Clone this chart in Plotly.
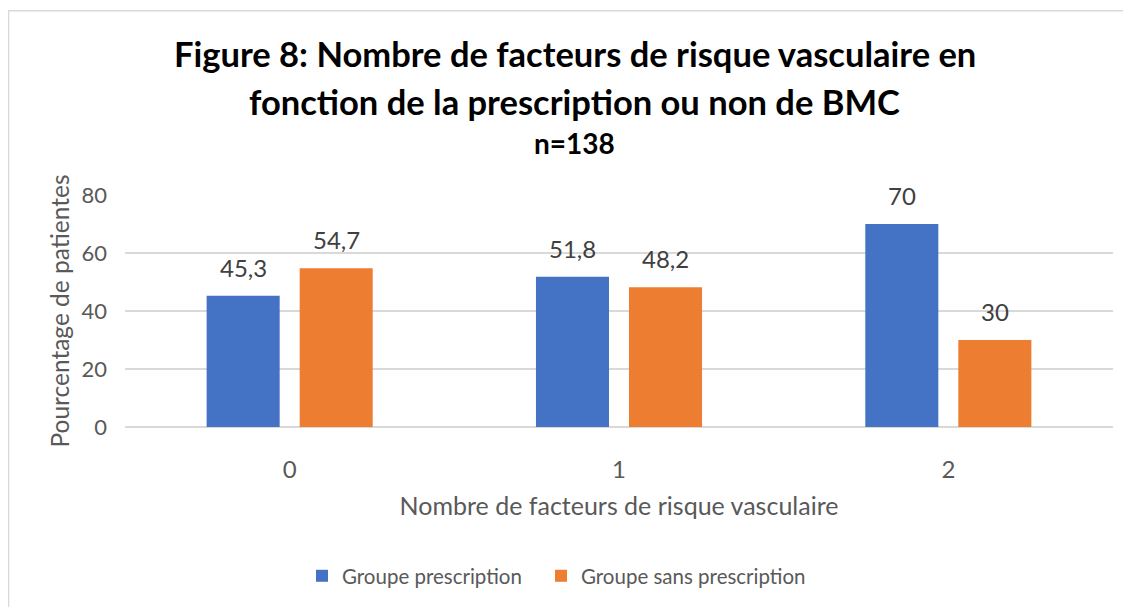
import plotly.graph_objects as go

categories = ["0", "1", "2"]
groupe_prescription = [45.3, 51.8, 70]
groupe_sans_prescription = [54.7, 48.2, 30]
series_names = ["Groupe prescription", "Groupe sans prescription"]
colors = ["#4472C4", "#ED7D31"]
yticks = [0, 20, 40, 60, 80]

FONT = "Lato"
fig = go.Figure()
for name, vals, col, lg in zip(series_names, [groupe_prescription, groupe_sans_prescription], colors, ["legend", "legend2"]):
    fig.add_trace(go.Bar(x=categories, y=vals, name=name, legend=lg, marker=dict(color=col, line=dict(width=0))))

def fmt(v):
    return ("%g" % v).replace(".", ",")

for vals, shift in [(groupe_prescription, -46.5), (groupe_sans_prescription, 46.5)]:
    for c, v in zip(categories, vals):
        fig.add_annotation(x=c, y=v, text=fmt(v), showarrow=False, xshift=shift, yshift=12,
                           yanchor="bottom", font=dict(family=FONT, size=24, color="#404040"))

# titles
fig.add_annotation(xref="paper", yref="paper", x=0.455, y=1.609, text="<b>Figure 8: Nombre de facteurs de risque vasculaire en</b>",
                   showarrow=False, font=dict(family=FONT, size=34.5, color="#000000"), yanchor="middle")
fig.add_annotation(xref="paper", yref="paper", x=0.455, y=1.405, text="<b>fonction de la prescription ou non de BMC</b>",
                   showarrow=False, font=dict(family=FONT, size=34.5, color="#000000"), yanchor="middle")
fig.add_annotation(xref="paper", yref="paper", x=0.455, y=1.223, text="<b>n=138</b>",
                   showarrow=False, font=dict(family=FONT, size=28, color="#000000"), yanchor="middle")

fig.add_shape(type="rect", xref="paper", yref="paper", x0=(8.5 - 125) / 988, x1=1.05, y0=-0.9, y1=(428 - 10) / 233,
              line=dict(color="#D9D9D9", width=1.5), fillcolor="rgba(0,0,0,0)")

legend_style = dict(orientation="h", xanchor="left", y=-0.635, yanchor="middle",
                    font=dict(family=FONT, size=20.5, color="#595959"), bgcolor="rgba(0,0,0,0)")

fig.update_layout(
    width=1123, height=599,
    margin=dict(l=117, r=18, t=187, b=179),
    paper_bgcolor="white", plot_bgcolor="white",
    barmode="group", bargap=0.435, bargroupgap=0.215,
    font=dict(family=FONT, color="#595959"),
    showlegend=True,
    legend=dict(x=(302 - 125) / 988, **legend_style),
    legend2=dict(x=(541 - 125) / 988, **legend_style),
)
fig.update_xaxes(showgrid=False, showline=False, zeroline=False, ticks="",
                 tickfont=dict(family=FONT, size=24, color="#595959"), ticklabelstandoff=26,
                 title=dict(text="Nombre de facteurs de risque vasculaire", font=dict(family=FONT, size=25, color="#595959"), standoff=15))
fig.update_yaxes(range=[0, 80], tickvals=yticks, showgrid=True, gridcolor="#D9D9D9", gridwidth=1.5,
                 zeroline=True, zerolinecolor="#D9D9D9", zerolinewidth=1.5, showline=False, ticks="",
                 tickfont=dict(family=FONT, size=22, color="#595959"), ticklabelstandoff=17,
                 title=dict(text="Pourcentage de patientes", font=dict(family=FONT, size=24.5, color="#595959"), standoff=4))

fig.write_html("out.html")
